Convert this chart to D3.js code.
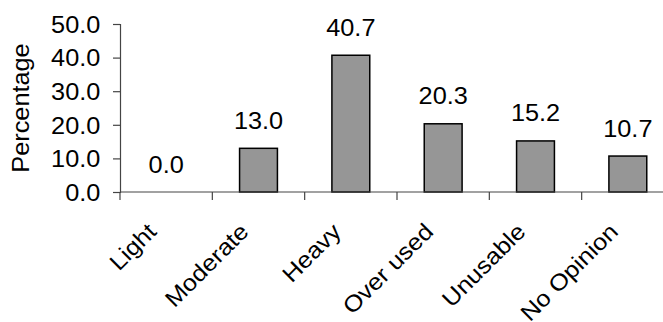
<!DOCTYPE html>
<html>
<head>
<meta charset="utf-8">
<script src="https://cdn.jsdelivr.net/npm/d3@7"></script>
<style>
  html, body { margin: 0; padding: 0; background: #fff; }
  svg { display: block; }
  text { font-family: "Liberation Sans", Arial, sans-serif; fill: #000; }
</style>
</head>
<body>
<svg id="chart" width="663" height="322"></svg>
<script>
// Survey response shares (percent) per usage category
const categories = ["Light", "Moderate", "Heavy", "Over used", "Unusable", "No Opinion"];
const values = [0.0, 13.0, 40.7, 20.3, 15.2, 10.7];
const yTicks = [0, 10, 20, 30, 40, 50];
const yTitle = "Percentage";

const svg = d3.select("#chart");
const plotLeft = 120, plotRight = 674, plotTop = 24, plotBottom = 192;
const axisColor = "#444";
const fontSize = 23;
const widen = "scale(1.1,1)"; // wider glyph advance along the baseline
const fmt = d3.format(".1f");

const x = d3.scaleBand().domain(categories).range([plotLeft, plotRight]).paddingInner(0.59).paddingOuter(0.295);
const y = d3.scaleLinear().domain([0, 50]).range([plotBottom, plotTop]);

// Bars
svg.append("g").selectAll("rect")
  .data(values)
  .join("rect")
  .attr("x", (d, i) => x(categories[i]))
  .attr("y", d => y(d))
  .attr("width", x.bandwidth())
  .attr("height", d => y(0) - y(d))
  .attr("fill", "#969696")
  .attr("stroke", "#000")
  .attr("stroke-width", 1.5);

// Y axis
const yAxis = svg.append("g")
  .attr("transform", `translate(${plotLeft},0)`)
  .call(d3.axisLeft(y).tickValues(yTicks).tickFormat(fmt).tickSize(7));
yAxis.select(".domain").attr("stroke", axisColor).attr("stroke-width", 1.2);
yAxis.selectAll(".tick line").attr("stroke", axisColor).attr("stroke-width", 1.2);
yAxis.selectAll(".tick text")
  .attr("x", 0)
  .attr("y", 8.3)
  .attr("dy", null)
  .attr("transform", `translate(-19.7,0) ${widen}`)
  .attr("font-size", fontSize)
  .attr("font-family", "'Liberation Sans', Arial, sans-serif")
  .attr("fill", "#000");

// X axis baseline and tick marks at band boundaries
const step = x.step();
const boundaries = d3.range(categories.length + 1).map(i => plotLeft + i * step);
svg.append("line")
  .attr("x1", plotLeft).attr("x2", plotRight)
  .attr("y1", y(0)).attr("y2", y(0))
  .attr("stroke", axisColor).attr("stroke-width", 1.2);
svg.append("g").selectAll("line")
  .data(boundaries)
  .join("line")
  .attr("x1", d => d).attr("x2", d => d)
  .attr("y1", y(0)).attr("y2", y(0) + 8)
  .attr("stroke", axisColor).attr("stroke-width", 1.2);

// Category labels, rotated
svg.append("g").selectAll("text")
  .data(categories)
  .join("text")
  .attr("transform", d => `translate(${x(d) + x.bandwidth() / 2 - 8.5},233) rotate(-45) ${widen}`)
  .attr("text-anchor", "end")
  .attr("font-size", fontSize)
  .text(d => d);

// Value labels above bars
svg.append("g").selectAll("text")
  .data(values)
  .join("text")
  .attr("transform", (d, i) => `translate(${x(categories[i]) + x.bandwidth() / 2},${y(d) - 19.5}) ${widen}`)
  .attr("text-anchor", "middle")
  .attr("font-size", fontSize)
  .text(d => fmt(d));

// Y axis title
svg.append("text")
  .attr("transform", `translate(28.7,${(plotTop + plotBottom) / 2}) rotate(-90) ${widen}`)
  .attr("text-anchor", "middle")
  .attr("font-size", fontSize)
  .text(yTitle);
</script>
</body>
</html>
